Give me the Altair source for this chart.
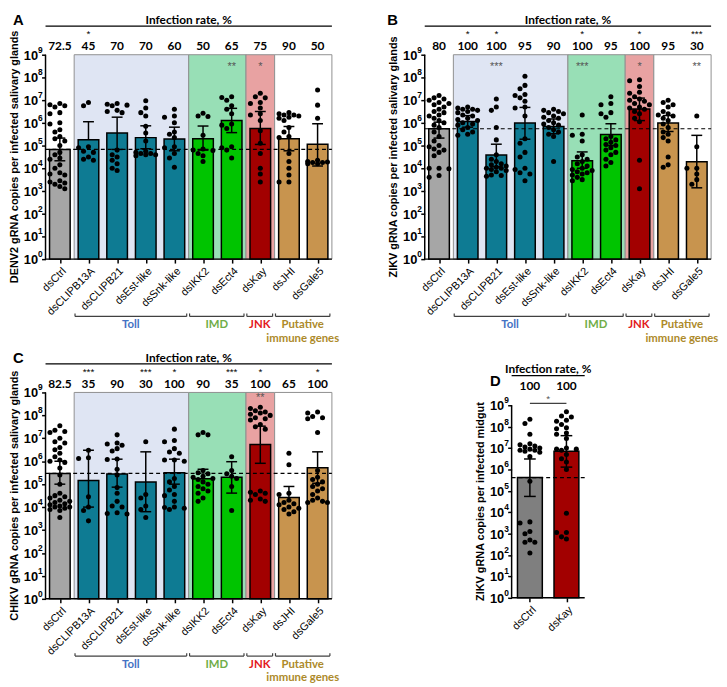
import altair as alt
import pandas as pd
import numpy as np

SANS = "Liberation Sans"
HEAD = "Lato"

GROUPS = ["dsCtrl", "dsCLIPB13A", "dsCLIPB21", "dsEst-like", "dsSnk-like",
          "dsIKK2", "dsEct4", "dsKay", "dsJHI", "dsGale5"]
PATHWAY = ["ctrl", "Toll", "Toll", "Toll", "Toll", "IMD", "IMD", "JNK", "Put", "Put"]
PATHWAY_ORDER = ["Toll", "IMD", "JNK", "Put"]
PATHWAY_TEXT = {"Toll": "Toll", "IMD": "IMD", "JNK": "JNK", "Put": "Putative\nimmune genes"}
BAR_COLOR = {"ctrl": "#a6a6a6", "Toll": "#0e7b93", "IMD": "#00c400", "JNK": "#a20000", "Put": "#c8944e"}
REGION_FILL = {"Toll": "#dfe5f3", "IMD": "#98dfb6", "JNK": "#e8a2a2", "Put": "#ffffff"}
LABEL_COLOR = {"Toll": "#4472c4", "IMD": "#70ad47", "JNK": "#e31a1c", "Put": "#ad8a2a"}

# ---------------- Panel A : DENV2 (log10 copies) ----------------
A_RATE = ["72.5", "45", "70", "70", "60", "50", "65", "75", "90", "50"]
A_STAR_TOP = ["", "*", "", "", "", "", "", "", "", ""]
A_STAR_IN = ["", "", "", "", "", "", "**", "*", "", ""]
A_BAR = [4.83, 5.26, 5.55, 5.35, 5.29, 5.30, 6.10, 5.75, 5.30, 5.06]
A_HI = [5.33, 6.05, 6.25, 5.87, 5.81, 5.86, 6.64, 6.50, 5.84, 5.96]
A_LO = [4.33, None, 4.83, 4.86, 4.77, 4.80, 5.57, 5.05, 4.77, 4.10]
A_DOTS = [
    [6.85, 6.8, 6.75, 6.7, 6.45, 6.4, 6.0, 5.95, 5.7, 5.6, 5.4, 5.3, 5.2, 5.0, 4.7, 4.6, 4.45, 4.4,
     4.15, 4.0, 3.8, 3.75, 3.7, 3.45, 3.4, 3.35, 3.3, 3.2, 3.1],
    [6.9, 6.75, 4.95, 4.9, 4.75, 4.7, 4.5, 4.4, 4.35],
    [6.85, 6.82, 6.78, 6.75, 6.55, 6.5, 6.45, 4.8, 4.6, 4.5, 4.35, 4.2, 4.0, 3.9],
    [6.97, 6.65, 6.45, 6.3, 5.85, 5.55, 5.2, 4.75, 4.7, 4.65, 4.65, 4.6, 4.6, 4.55],
    [6.6, 6.3, 6.25, 6.0, 5.6, 5.5, 5.35, 4.95, 4.9, 4.65, 4.45, 4.05],
    [6.42, 6.3, 6.28, 5.45, 4.85, 4.8, 4.78, 4.65, 4.55, 4.3],
    [7.15, 7.12, 7.0, 6.75, 6.6, 6.4, 5.95, 5.9, 5.75, 4.95, 4.9, 4.8, 4.45],
    [7.3, 7.15, 7.1, 6.9, 6.85, 6.65, 6.4, 6.35, 6.1, 5.65, 5.1, 4.65, 4.0, 3.75, 3.4],
    [6.45, 6.4, 6.35, 6.35, 6.3, 6.25, 6.2, 6.1, 5.8, 5.6, 5.4, 5.35, 4.65, 4.3, 4.0, 3.7, 3.4, 3.4],
    [7.45, 6.78, 6.2, 4.35, 4.3, 4.28, 4.25, 4.25, 4.2, 4.2],
]

# ---------------- Panel B : ZIKV salivary glands ----------------
B_RATE = ["80", "100", "100", "95", "90", "100", "95", "100", "95", "30"]
B_STAR_TOP = ["", "*", "*", "", "", "*", "", "*", "", "***"]
B_STAR_IN = ["", "", "***", "", "", "***", "", "*", "", "**"]
B_BAR = [5.74, 6.06, 4.58, 5.99, 5.84, 4.33, 5.49, 6.61, 5.99, 4.29]
B_HI = [6.03, 6.32, 5.06, 6.68, 6.17, 4.72, 5.96, 7.09, 6.32, 5.45]
B_LO = [5.33, 5.81, 4.07, 5.28, 5.52, 4.00, 5.00, 6.10, 5.62, 3.14]
B_DOTS = [
    [7.2, 7.1, 7.05, 7.0, 6.9, 6.85, 6.8, 6.7, 6.6, 6.5, 6.45, 6.35, 6.3, 6.2, 6.1, 6.0, 5.9, 5.8,
     5.6, 5.4, 5.2, 5.0, 4.95, 4.85, 4.8, 4.7, 4.55, 4.0, 4.0, 3.98, 3.68, 3.6],
    [6.7, 6.65, 6.6, 6.6, 6.55, 6.5, 6.45, 6.35, 6.3, 6.2, 6.15, 6.1, 6.0, 5.95, 5.9, 5.8, 5.7, 5.6, 5.5, 5.45],
    [7.05, 6.7, 6.55, 5.8, 5.25, 4.6, 4.4, 4.3, 4.2, 4.15, 4.1, 4.05, 4.0, 4.0, 3.95, 3.9, 3.85, 3.7, 3.68, 3.65],
    [8.05, 7.65, 7.5, 7.25, 7.2, 7.1, 6.95, 6.7, 6.65, 6.3, 5.3, 5.1, 4.7, 4.5, 4.0, 3.95, 3.8, 3.75, 3.45],
    [6.6, 6.55, 6.5, 6.45, 6.4, 6.3, 6.25, 6.2, 6.1, 6.0, 5.95, 5.9, 5.8, 5.7, 5.6, 5.5, 5.4, 4.3],
    [6.35, 5.5, 5.45, 5.2, 4.6, 4.5, 4.4, 4.3, 4.2, 4.1, 4.0, 3.95, 3.9, 3.85, 3.8, 3.75, 3.7, 3.6, 3.5, 3.45],
    [7.15, 6.85, 6.8, 6.45, 6.4, 6.25, 5.4, 5.3, 5.25, 5.15, 5.05, 5.0, 4.9, 4.8, 4.7, 4.6, 4.4, 4.25, 4.1],
    [7.9, 7.85, 7.6, 7.35, 7.3, 7.15, 7.05, 7.0, 6.95, 6.85, 6.8, 6.7, 6.65, 6.6, 6.5, 6.4, 6.2, 6.05, 4.35, 3.1],
    [7.0, 6.9, 6.8, 6.7, 6.5, 6.4, 6.35, 6.3, 6.2, 6.1, 5.95, 5.8, 5.6, 5.5, 5.35, 5.2, 4.5, 4.15, 4.05],
    [6.3, 4.95, 4.0, 4.0, 3.75, 3.5, 3.3],
]

# ---------------- Panel C : CHIKV salivary glands ----------------
C_RATE = ["82.5", "35", "90", "30", "100", "90", "35", "100", "65", "100"]
C_STAR_TOP = ["", "***", "", "***", "*", "", "***", "*", "", "*"]
C_STAR_IN = ["", "", "", "", "", "", "", "**", "", ""]
C_BAR = [5.47, 5.16, 5.44, 5.09, 5.50, 5.24, 5.30, 6.73, 4.42, 5.72]
C_HI = [6.00, 6.48, 6.09, 6.41, 6.09, 5.65, 5.98, 7.53, 4.90, 6.41]
C_LO = [5.00, 4.00, 4.87, 3.80, 5.00, None, 4.61, 5.91, None, 5.04]
C_DOTS = [
    [7.55, 7.35, 7.3, 7.25, 7.0, 6.85, 6.8, 6.6, 6.5, 6.35, 6.2, 6.05, 6.0, 5.95, 5.7, 5.4, 5.0, 4.6,
     4.5, 4.45, 4.4, 4.3, 4.25, 4.2, 4.15, 4.1, 4.05, 4.0, 4.0, 3.95, 3.9, 3.85, 3.55],
    [6.48, 6.15, 6.12, 4.45, 4.0, 3.85, 3.4],
    [7.15, 6.8, 6.75, 6.7, 6.55, 6.45, 6.1, 6.08, 5.65, 5.4, 4.85, 4.6, 4.25, 4.05, 4.0, 3.75, 3.72, 3.7],
    [6.85, 4.55, 4.4, 4.05, 3.9, 3.55],
    [7.4, 6.9, 6.85, 6.55, 6.4, 6.35, 6.05, 6.05, 6.0, 5.25, 5.1, 4.9, 4.75, 4.55, 4.5, 4.25, 4.0, 3.98, 3.95, 3.9],
    [7.25, 7.15, 7.15, 5.6, 5.5, 5.45, 5.35, 5.3, 5.25, 5.2, 5.1, 5.0, 4.9, 4.8, 4.7, 4.6, 4.4, 4.25],
    [6.2, 5.6, 5.45, 5.35, 5.25, 4.9, 3.85],
    [8.35, 8.3, 8.2, 8.15, 8.1, 8.05, 8.0, 7.9, 7.85, 7.8, 7.6, 7.5, 7.4, 4.7, 4.65, 4.6, 4.55, 4.35, 4.3, 4.25],
    [6.35, 5.85, 4.6, 4.55, 4.3, 4.2, 4.15, 4.1, 4.0, 3.95, 3.9, 3.8, 3.7],
    [8.15, 8.1, 7.95, 7.9, 7.85, 7.25, 5.6, 5.3, 5.2, 5.1, 5.0, 4.9, 4.8, 4.7, 4.55, 4.4, 4.3, 4.25, 4.2, 4.2],
]

# ---------------- Panel D : ZIKV midgut ----------------
D_GROUPS = ["dsCtrl", "dsKay"]
D_PATHWAY = ["ctrl", "JNK"]
D_RATE = ["100", "100"]
D_BAR = [5.62, 6.85]
D_HI = [6.49, 7.58]
D_LO = [4.74, 6.11]
D_DOTS = [
    [8.35, 8.15, 7.65, 7.2, 7.15, 7.1, 7.05, 7.0, 6.95, 6.9, 6.9, 6.85, 6.8, 6.6, 5.45, 3.55, 3.5,
     3.1, 3.0, 2.7, 2.6, 2.6, 2.1],
    [8.7, 8.5, 8.45, 8.3, 8.25, 8.1, 7.95, 7.9, 7.7, 7.65, 7.45, 7.0, 6.95, 6.95, 6.9, 6.7, 6.5,
     6.35, 6.0, 3.95, 3.05, 3.05, 2.85, 2.75],
]


def swarm(logs, dec, band, half_px, dia=5.4):
    """Simple beeswarm: horizontal offsets (in x units) avoiding overlaps."""
    offs = [0.0]
    k = 1
    while k * 5.0 <= half_px + 0.01:
        offs += [-k * 5.0, k * 5.0]
        k += 1
    res = [0.0] * len(logs)
    placed = []
    for i in sorted(range(len(logs)), key=lambda j: -logs[j]):
        y = logs[i] * dec
        best, bestd = 0.0, -1.0
        for o in offs:
            d = min([np.hypot(o - px, y - py) for px, py in placed] or [99.0])
            if d >= dia:
                best = o
                break
            if d > bestd:
                best, bestd = o, d
        placed.append((best, y))
        res[i] = best / band
    return res


def build_panel(cfg):
    groups, pw = cfg["groups"], cfg["pathway"]
    n = len(groups)
    W, H, xmin, ytop = cfg["W"], cfg["H"], cfg["xmin"], cfg["ytop"]
    xmax = n - 0.5
    band = W / (xmax - xmin)
    dec = H / ytop
    ax = (-0.5 - xmin) * band
    half = cfg["bar_half"]
    cap = cfg["cap"]

    label_js = "[" + ",".join("'%s'" % g for g in groups) + "][datum.value]"
    xsc = alt.Scale(domain=[xmin, xmax], nice=False, zero=False)
    ysc = alt.Scale(type="log", domain=[1, 10 ** ytop], nice=False)
    xax = alt.Axis(values=list(range(n)), labelExpr=label_js, labelAngle=-45, labelAlign="right",
                   labelBaseline="top", labelFont=SANS, labelFontSize=11, labelColor="black",
                   labelPadding=2, labelFlush=False, labelOverlap=False, ticks=True, tickSize=4,
                   tickWidth=1.5, tickColor="black", domain=False, grid=False, title=None)
    yax = alt.Axis(values=[10 ** k for k in range(10)], labels=False, ticks=True, tickSize=4,
                   tickWidth=1.5, tickColor="black", domain=False, grid=False, title=None,
                   offset=-ax)

    def X(f):
        return alt.X(f, type="quantitative", scale=xsc, axis=xax)

    def Y(f):
        return alt.Y(f, type="quantitative", scale=ysc, axis=yax)

    layers = []

    # background regions
    reg = []
    for p in PATHWAY_ORDER:
        ids = [i for i, q in enumerate(pw) if q == p]
        if ids and cfg["regions"]:
            reg.append({"x0": min(ids) - 0.5, "x1": max(ids) + 0.5, "y0": 1.0, "y1": 10.0 ** 9,
                        "fill": REGION_FILL[p]})
    if reg:
        layers.append(alt.Chart(pd.DataFrame(reg)).mark_rect(stroke="#8f8f8f", strokeWidth=1).encode(
            x=X("x0"), x2="x1", y=Y("y0"), y2="y1", fill=alt.Fill("fill:N", scale=None)))

    # bars
    colors = [cfg["ctrl_color"] if p == "ctrl" else BAR_COLOR[p] for p in pw]
    bars = pd.DataFrame({"xl": [i - half for i in range(n)], "xr": [i + half for i in range(n)],
                         "top": [10 ** v for v in cfg["bar"]], "bot": [1.0] * n, "fill": colors})
    layers.append(alt.Chart(bars).mark_rect(stroke="black", strokeWidth=1.5).encode(
        x=X("xl"), x2="xr", y=Y("bot"), y2="top", fill=alt.Fill("fill:N", scale=None)))

    # error bars
    err = pd.DataFrame({"idx": list(range(n)), "hi": [10 ** v for v in cfg["hi"]],
                        "lo": [10 ** (l if l is not None else b) for l, b in zip(cfg["lo"], cfg["bar"])]})
    layers.append(alt.Chart(err).mark_rule(color="black", strokeWidth=1.5).encode(
        x=X("idx"), y=Y("lo"), y2="hi"))
    caps = [{"x0": i - cap, "x1": i + cap, "y": 10 ** v} for i, v in enumerate(cfg["hi"])]
    caps += [{"x0": i - cap, "x1": i + cap, "y": 10 ** v} for i, v in enumerate(cfg["lo"]) if v is not None]
    layers.append(alt.Chart(pd.DataFrame(caps)).mark_rule(color="black", strokeWidth=1.5).encode(
        x=X("x0"), x2="x1", y=Y("y")))

    # dashed control level
    dash = pd.DataFrame({"x0": [-0.5], "x1": [n - 0.5], "y": [10 ** cfg["bar"][0]]})
    layers.append(alt.Chart(dash).mark_rule(color="black", strokeWidth=1.2, strokeDash=[4, 3]).encode(
        x=X("x0"), x2="x1", y=Y("y")))

    # axis lines
    yl = pd.DataFrame({"x": [-0.5], "y0": [1.0], "y1": [10.0 ** 9]})
    layers.append(alt.Chart(yl).mark_rule(color="black", strokeWidth=1.5).encode(
        x=X("x"), y=Y("y0"), y2="y1"))
    xl = pd.DataFrame({"x0": [-0.5], "x1": [n - 0.5], "y": [1.0]})
    layers.append(alt.Chart(xl).mark_rule(color="black", strokeWidth=1.5).encode(
        x=X("x0"), x2="x1", y=Y("y")))

    # dots
    rows = []
    for i, vals in enumerate(cfg["dots"]):
        offs = swarm(vals, dec, band, cfg["swarm_half"])
        for v, o in zip(vals, offs):
            rows.append({"xj": i + o, "v": 10 ** v})
    layers.append(alt.Chart(pd.DataFrame(rows)).mark_circle(size=26, color="black", opacity=1).encode(
        x=X("xj"), y=Y("v")))

    # y tick labels 10^k (base and raised exponent)
    tl = pd.DataFrame({"x": [-0.5] * 10, "y": [10.0 ** k for k in range(10)],
                       "base": ["10"] * 10, "exp": [str(k) for k in range(10)]})
    layers.append(alt.Chart(tl).mark_text(align="right", baseline="middle", dx=-7.5, dy=1, font=SANS,
                                          fontSize=13, fontWeight="bold", color="black").encode(
        x=X("x"), y=Y("y"), text="base:N"))
    layers.append(alt.Chart(tl).mark_text(align="left", baseline="middle", dx=-7.5, dy=-5, font=SANS,
                                          fontSize=8.5, fontWeight="bold", color="black").encode(
        x=X("x"), y=Y("y"), text="exp:N"))

    # header
    hdr = pd.DataFrame({"xc": [(n - 1) / 2.0], "x0": [-0.5], "x1": [n - 0.5], "t": ["Infection rate, %"]})
    layers.append(alt.Chart(hdr).mark_text(baseline="middle", font=HEAD, fontSize=12, fontWeight="bold",
                                           color="black").encode(
        x=X("xc"), y=alt.value(cfg["hy_title"]), text="t:N"))
    layers.append(alt.Chart(hdr).mark_rule(color="black", strokeWidth=1.2).encode(
        x=X("x0"), x2="x1", y=alt.value(cfg["hy_line"])))
    num = pd.DataFrame({"idx": list(range(n)), "r": cfg["rate"], "s": cfg["star_top"], "si": cfg["star_in"]})
    layers.append(alt.Chart(num).mark_text(baseline="middle", font=HEAD, fontSize=12, fontWeight="bold",
                                           color="black").encode(
        x=X("idx"), y=alt.value(cfg["hy_num"]), text="r:N"))
    layers.append(alt.Chart(num).mark_text(baseline="middle", font=SANS, fontSize=10, color="black").encode(
        x=X("idx"), y=alt.value(cfg["hy_star"]), text="s:N"))
    layers.append(alt.Chart(num).mark_text(baseline="middle", font=SANS, fontSize=11, color="#555555").encode(
        x=X("idx"), y=alt.value(cfg["hy_in"]), text="si:N"))

    # brackets and pathway labels
    if cfg["brackets"]:
        br = []
        for p in PATHWAY_ORDER:
            ids = [i for i, q in enumerate(pw) if q == p]
            br.append({"x0": min(ids) - 0.47, "x1": max(ids) + 0.43, "xc": (min(ids) + max(ids)) / 2.0 - 0.02,
                       "t": PATHWAY_TEXT[p], "c": LABEL_COLOR[p]})
        brd = pd.DataFrame(br)
        yb = H + 58
        layers.append(alt.Chart(brd).mark_rule(color="#404040", strokeWidth=1.2).encode(
            x=X("x0"), x2="x1", y=alt.value(yb)))
        layers.append(alt.Chart(brd).mark_rule(color="#404040", strokeWidth=1.2).encode(
            x=X("x0"), y=alt.value(yb - 3), y2=alt.value(yb)))
        layers.append(alt.Chart(brd).mark_rule(color="#404040", strokeWidth=1.2).encode(
            x=X("x1"), y=alt.value(yb - 3), y2=alt.value(yb)))
        layers.append(alt.Chart(brd).mark_text(baseline="top", font=HEAD, fontSize=11.5, fontWeight="bold",
                                               lineBreak="\n", lineHeight=13.5).encode(
            x=X("xc"), y=alt.value(yb + 3), text="t:N", color=alt.Color("c:N", scale=None)))

    # significance bracket (panel D)
    if cfg.get("sig"):
        sg = pd.DataFrame({"x0": [0.0], "x1": [1.0], "xc": [0.5], "t": ["*"]})
        layers.append(alt.Chart(sg).mark_rule(color="#404040", strokeWidth=1.2).encode(
            x=X("x0"), x2="x1", y=alt.value(cfg["sig_y"])))
        layers.append(alt.Chart(sg).mark_text(baseline="middle", font=SANS, fontSize=10, color="#555555").encode(
            x=X("xc"), y=alt.value(cfg["sig_y"] - 4), text="t:N"))

    # panel letter and y title
    let = pd.DataFrame({"t": [cfg["letter"]]})
    layers.append(alt.Chart(let).mark_text(align="left", baseline="middle", font=SANS, fontSize=15,
                                           fontWeight="bold", color="black").encode(
        x=alt.value(ax + cfg["let_x"]), y=alt.value(cfg["let_y"]), text="t:N"))
    yt = pd.DataFrame({"t": [cfg["ytitle"]]})
    y_mid = H - 4.5 * dec
    layers.append(alt.Chart(yt).mark_text(align="center", baseline="middle", angle=270, font=SANS,
                                          fontSize=11, fontWeight="bold", color="black").encode(
        x=alt.value(ax - 31), y=alt.value(y_mid), text="t:N"))

    return alt.layer(*layers).properties(width=W, height=H)


COMMON = dict(groups=GROUPS, pathway=PATHWAY, xmin=-0.5, ytop=9, bar_half=0.36, cap=0.19,
              ctrl_color="#a6a6a6", regions=True, brackets=True, swarm_half=10.5,
              hy_title=-35, hy_line=-29, hy_star=-21, hy_num=-9, let_x=-33, let_y=-35)

pA = build_panel(dict(COMMON, W=290, H=207, letter="A", rate=A_RATE, star_top=A_STAR_TOP,
                      star_in=A_STAR_IN, bar=A_BAR, hi=A_HI, lo=A_LO, dots=A_DOTS, hy_in=12,
                      ytitle="DENV2 gRNA copies per infected salivary glands"))
pB = build_panel(dict(COMMON, W=290, H=207, letter="B", rate=B_RATE, star_top=B_STAR_TOP,
                      star_in=B_STAR_IN, bar=B_BAR, hi=B_HI, lo=B_LO, dots=B_DOTS, hy_in=12,
                      let_x=-38, ytitle="ZIKV gRNA copies per infected salivary glands"))
pC = build_panel(dict(COMMON, W=290, H=209, letter="C", rate=C_RATE, star_top=C_STAR_TOP,
                      star_in=C_STAR_IN, bar=C_BAR, hi=C_HI, lo=C_LO, dots=C_DOTS, hy_in=6,
                      ytitle="CHIKV gRNA copies per infected salivary glands"))
# panel D: plot area narrower, set in a wider cell
D_W, D_H = 162, 208
D_BAND = 37.0
D_TOP = 9 + 13 / (195 / 9.0)
pD = build_panel(dict(groups=D_GROUPS, pathway=D_PATHWAY, W=D_W, H=D_H,
                      xmin=1.5 - D_W / D_BAND, ytop=D_TOP, bar_half=0.34, cap=0.16,
                      ctrl_color="#7f7f7f", regions=False, brackets=False, swarm_half=12.5,
                      letter="D", rate=D_RATE, star_top=["", ""], star_in=["", ""],
                      bar=D_BAR, hi=D_HI, lo=D_LO, dots=D_DOTS,
                      hy_title=-24, hy_line=-17, hy_star=-12, hy_num=-6, hy_in=6,
                      let_x=-22, let_y=-12, sig=True, sig_y=11,
                      ytitle="ZIKV gRNA copies per infected midgut"))

chart = alt.concat(pA, pB, pC, pD, columns=2, spacing={"row": 133, "column": 94},
                   bounds="flush", align="all", padding=0).configure_view(stroke="transparent")

chart.save("out.html", embed_options={"renderer": "svg", "actions": False})
